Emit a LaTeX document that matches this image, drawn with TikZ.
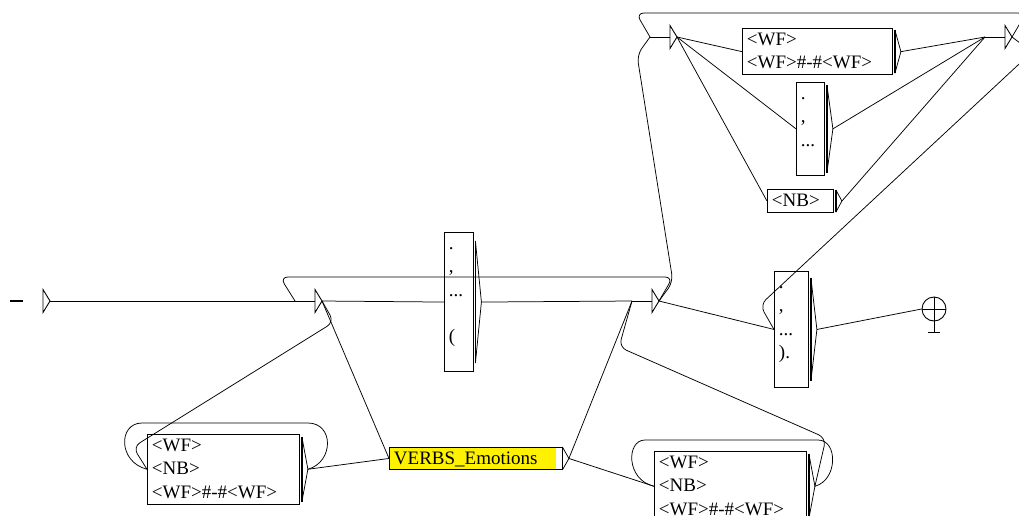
\documentclass[tikz,border=0pt]{standalone}
\usepackage{fontspec}
\setmainfont{Liberation Serif}
\usetikzlibrary{calc}

\newcommand\ufont{\fontsize{19}{23.2}\selectfont}
\newcommand\us{\rule[-6pt]{0pt}{23.2pt}}
% exit of a box: thick bar, then the small triangle
\newcommand\boxexit[2]{%
  \draw[line width=1.2pt] ([shift={(2,#2)}]#1.north east) -- ([shift={(2,-#2)}]#1.south east);
  \draw[tr] ([shift={(2,#2)}]#1.north east) -- ([xshift=8pt]#1.east) coordinate (#1-out)
    -- ([shift={(2,-#2)}]#1.south east);}
% empty box: stub line and triangle only
\newcommand\epsbox[3]{%
  \coordinate (#1-in) at (#2,#3);
  \coordinate (#1-out) at (#2+27,#3);
  \draw[tr] (#1-in) -- ++(20,0);
  \draw[tri] (#2+20,#3-11.5) -- (#1-out) -- (#2+20,#3+11.5) -- cycle;}

\begin{document}
\begin{tikzpicture}[x=1pt, y=-1pt,
  box/.style={draw, line width=0.9pt, anchor=north west, align=left,
              inner xsep=4.5pt, inner ysep=0pt, font=\ufont},
  tr/.style={line width=0.75pt},
  tri/.style={line width=0.9pt, line join=miter}]

  \useasboundingbox (0,0) rectangle (1019,515);
  \clip (0,0) rectangle (1019,515);
  \fill[white] (0,0) rectangle (1019,515);

  % initial state
  \draw[line width=2.5pt] (10,301) -- (23,301);
  \draw[tri] (43,289.5) -- (50,301) coordinate (init-out) -- (43,312.5) -- cycle;

  \epsbox{A}{295}{301}
  \epsbox{join}{632}{301}
  \epsbox{grpin}{650}{37}
  \epsbox{grpout}{985}{37}

  \node[box, text width=19.5pt] (punctB) at (444,232) {\us.\\\us,\\\us...\\\us\\\us(\\\us};
  \node[box, text width=25pt]   (punctC) at (774,271) {\us.\\\us,\\\us...\\\us).\\\us};
  \node[box, text width=141pt]  (wfup)   at (742,28)  {\us<WF>\\\us<WF>\#-\#<WF>};
  \node[box, text width=19pt]   (punctE) at (796,82)  {\us.\\\us,\\\us...\\\us};
  \node[box, text width=57pt]   (nbup)   at (767,189) {\us<NB>};
  \node[box, text width=143pt]  (wfl)    at (147,434) {\us<WF>\\\us<NB>\\\us<WF>\#-\#<WF>};
  \node[box, text width=143pt]  (wfr)    at (654,451) {\us<WF>\\\us<NB>\\\us<WF>\#-\#<WF>};
  \node[box, text width=163.5pt, path picture={\fill[yellow]
          (path picture bounding box.north west) rectangle
          ([xshift=-6pt]path picture bounding box.south east);}]
        (verbs) at (389,447) {\rule[-5pt]{0pt}{22pt}VERBS\_Emotions};

  \boxexit{punctB}{9}
  \boxexit{punctC}{7}
  \boxexit{wfup}{2}
  \boxexit{punctE}{3}
  \boxexit{nbup}{1}
  \boxexit{wfl}{3}
  \boxexit{wfr}{3}
  \draw[tr] (verbs.north east) -- ([xshift=6.5pt]verbs.east) coordinate (verbs-out)
    -- (verbs.south east);

  % final state
  \node[circle, draw, line width=0.9pt, minimum size=24pt, inner sep=0pt] (fin) at (934,309) {};
  \draw[tr] (fin.north) -- (fin.south) -- ++(0,11) ++(-6,0) -- ++(12,0);
  \draw[tr] (fin.west) -- (fin.east);

  % forward transitions
  \draw[tr] (init-out) -- (A-in);
  \draw[tr] (A-out) -- (punctB.west);
  \draw[tr] (A-out) -- (verbs.west);
  \draw[tr] (punctB-out) -- (join-in);
  \draw[tr] (join-out) -- (punctC.west);
  \draw[tr] (punctC-out) -- (fin.west);
  \draw[tr] (grpin-out) -- (wfup.west);
  \draw[tr] (grpin-out) -- (punctE.west);
  \draw[tr] (grpin-out) -- (nbup.west);
  \draw[tr] (wfup-out) -- (grpout-in);
  \draw[tr] (punctE-out) -- (grpout-in);
  \draw[tr] (nbup-out) -- (grpout-in);
  \draw[tr] (wfl-out) -- (verbs.west);
  \draw[tr] (verbs-out) -- (join-in);
  \draw[tr] (verbs-out) -- (wfr.west);

  % backward transitions
  \draw[tr, rounded corners=8pt] (join-out) -- (673,277) -- (280,277) -- (A-in);
  \draw[tr, rounded corners=8pt] (join-out) -- (673,282) -- (637,55) -- (grpin-in);
  \draw[tr, rounded corners=8pt] (grpout-out) -- (1026,13) -- (636,13) -- (grpin-in);
  \draw[tr, rounded corners=8pt] (grpout-out) -- (1032,52) -- (760,305) -- (punctC.west);
  \draw[tr, rounded corners=8pt] (A-out) -- (334,322) -- (133,447) -- (wfl.west);
  \draw[tr, rounded corners=8pt] (wfr-out) -- (826,438) -- (619,347) -- (join-in);

  % loops on the word boxes
  \draw[tr] (wfl-out) .. controls (334,462) and (334,423) .. (308,423) -- (142,423)
    .. controls (118,423) and (118,462) .. (wfl.west);
  \draw[tr] (wfr-out) .. controls (838,480) and (838,440) .. (818,440) -- (645,440)
    .. controls (626,440) and (626,480) .. (wfr.west);
\end{tikzpicture}
\end{document}
